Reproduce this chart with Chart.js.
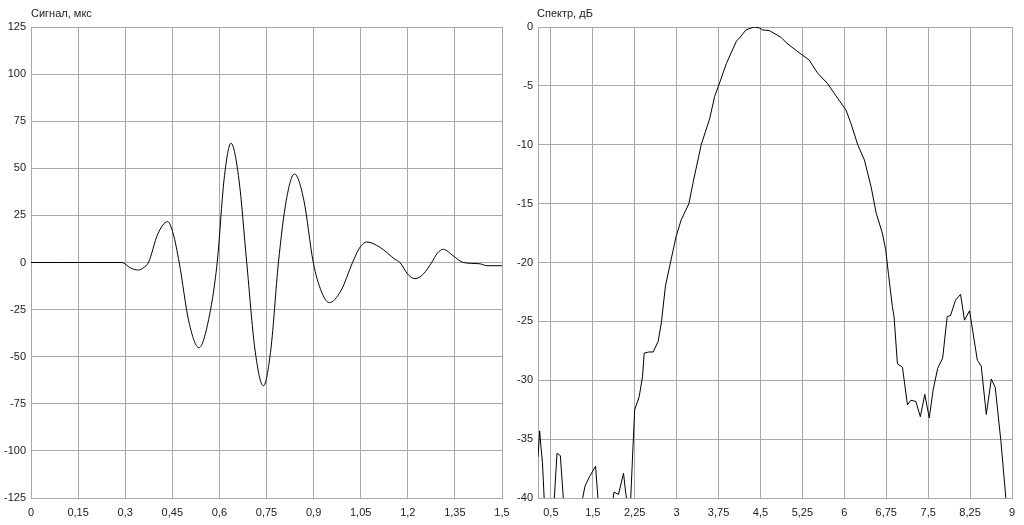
<!DOCTYPE html>
<html>
<head>
<meta charset="utf-8">
<script src="https://cdn.jsdelivr.net/npm/chart.js@4/dist/chart.umd.min.js"></script>
<style>
    body { margin: 0; background: #fff; width: 1024px; height: 525px; overflow: hidden; position: relative; }
    .box { position: absolute; top: 0; width: 512px; height: 525px; }
    .cap { position: absolute; top: 7px; font: 11px "Liberation Sans", Arial, sans-serif; color: #222; }
</style>
</head>
<body>
<div class="box" style="left:0"><canvas id="signal" width="512" height="525"></canvas></div>
<div class="box" style="left:512px"><canvas id="spectrum" width="512" height="525"></canvas></div>
<div class="cap" style="left:31px">Сигнал, мкс</div>
<div class="cap" style="left:537px">Спектр, дБ</div>
<script>
// signal, time axis
const sigT = [0, 0.1, 0.2, 0.29, 0.316, 0.342, 0.358, 0.374, 0.404, 0.435, 0.453, 0.472,
    0.503, 0.535, 0.564, 0.593, 0.615, 0.637, 0.662, 0.687, 0.713, 0.740, 0.764, 0.788,
    0.813, 0.839, 0.869, 0.899, 0.924, 0.950, 0.987, 1.024, 1.046, 1.069, 1.112, 1.159, 1.175,
    1.199, 1.223, 1.25, 1.276, 1.294, 1.313, 1.345, 1.377, 1.43, 1.452, 1.5];
const sigV = [0, 0, 0, 0, -2.8, -4, -2.8, 0, 15.2, 21.7, 15.2, 0,
    -31.6, -45.2, -31.6, 0, 44.3, 63.3, 44.3, 0, -45.9, -65.5, -45.9, 0,
    33, 47, 33, 0, -15, -21.3, -15, 0, 7.6, 10.9, 8, 1.7, 0,
    -6, -8.6, -6, 0, 4.9, 7, 3.5, 0, -0.7, -1.7, -1.7];
const sigXTicks = [0, 0.15, 0.3, 0.45, 0.6, 0.75, 0.9, 1.05, 1.2, 1.35, 1.5];
const sigXLabels = ['0', '0,15', '0,3', '0,45', '0,6', '0,75', '0,9', '1,05', '1,2', '1,35', '1,5'];
const sigYTicks = [125, 100, 75, 50, 25, 0, -25, -50, -75, -100, -125];

// spectrum, dB
const specF = [0.52, 0.55, 0.57, 0.6, 0.64, 0.8, 0.86, 0.92, 0.98, 1.3, 1.36, 1.44, 1.55, 1.6,
    1.85, 1.88, 1.96, 2.05, 2.09, 2.12, 2.17, 2.22, 2.25, 2.33, 2.39, 2.42, 2.5, 2.58, 2.67,
    2.73, 2.8, 2.89, 2.99, 3.08, 3.22, 3.29, 3.44, 3.59, 3.68, 3.75, 3.89, 4.07, 4.13, 4.24,
    4.38, 4.48, 4.54, 4.66, 4.87, 4.96, 5.14, 5.37, 5.52, 5.7, 5.88, 6.03, 6.12, 6.24, 6.36,
    6.48, 6.57, 6.68, 6.74, 6.79, 6.86, 6.89, 6.95, 7.04, 7.13, 7.19, 7.28, 7.36, 7.44, 7.52,
    7.59, 7.67, 7.76, 7.84, 7.9, 7.99, 8.08, 8.15, 8.24, 8.38, 8.45, 8.54, 8.63, 8.7, 8.8,
    8.89, 9];
const specDb = [-36.5, -34.3, -35.5, -37, -41, -41, -36.2, -36.4, -40.5, -40.5, -39, -38.2, -37.3, -40.5,
    -40.5, -39.5, -39.7, -37.9, -39.6, -40.5, -41, -35.6, -32.5, -31.4, -29.7, -27.7, -27.6, -27.6, -26.7,
    -25, -22, -20, -17.8, -16.4, -15, -13.3, -10, -7.8, -5.9, -5, -3.1, -1.2, -0.9, -0.25,
    0, -0.08, -0.25, -0.31, -0.88, -1.33, -2, -2.8, -3.9, -4.8, -6.05, -7.05, -8.2, -10, -11.3,
    -13.6, -15.8, -17.5, -18.9, -21, -23.75, -24.6, -28.6, -28.9, -32.1, -31.7, -31.8, -33.1, -31.2, -33.2,
    -30.8, -29, -28.1, -24.6, -24.5, -23.2, -22.7, -24.9, -24.1, -28.3, -28.8, -32.9, -29.9, -30.6, -35.1,
    -40, -44];
const specXTicks = [0.75, 1.5, 2.25, 3, 3.75, 4.5, 5.25, 6, 6.75, 7.5, 8.25, 9];
const specXLabels = ['0,5', '1,5', '2,25', '3', '3,75', '4,5', '5,25', '6', '6,75', '7,5', '8,25', '9'];
const specYTicks = [0, -5, -10, -15, -20, -25, -30, -35, -40];

const gridColor = '#a8a8a8';
const tickFont = { family: "'Liberation Sans', Arial, sans-serif", size: 11 };

function makeChart(id, xs, ys, o) {
    const points = xs.map((x, i) => ({ x: x, y: ys[i] }));
    return new Chart(document.getElementById(id), {
        type: 'line',
        data: {
            datasets: [{
                data: points,
                borderColor: '#000',
                borderWidth: 1,
                pointRadius: 0,
                tension: o.tension,
                cubicInterpolationMode: o.mode
            }]
        },
        options: {
            responsive: false,
            animation: false,
            events: [],
            layout: { padding: { top: 27, right: o.right, left: 0, bottom: 0 } },
            plugins: { legend: { display: false }, tooltip: { enabled: false } },
            scales: {
                x: {
                    type: 'linear',
                    min: o.xMin,
                    max: o.xMax,
                    afterBuildTicks: s => { s.ticks = o.xTicks.map(v => ({ value: v })); },
                    afterFit: s => { s.height = 27; s.paddingRight = 0; s.paddingLeft = 0; },
                    grid: { color: gridColor, drawTicks: false },
                    border: { color: gridColor },
                    ticks: {
                        color: '#222',
                        font: tickFont,
                        padding: 8,
                        maxRotation: 0,
                        autoSkip: false,
                        callback: v => {
                            const i = o.xTicks.findIndex(t => Math.abs(t - v) < 1e-6);
                            return i < 0 ? '' : o.xLabels[i];
                        }
                    }
                },
                y: {
                    min: o.yMin,
                    max: o.yMax,
                    afterBuildTicks: s => { s.ticks = o.yTicks.map(v => ({ value: v })); },
                    afterFit: s => { s.width = o.yWidth; },
                    grid: { color: gridColor, drawTicks: false },
                    border: { color: gridColor },
                    ticks: { color: '#222', font: tickFont, padding: 5, autoSkip: false }
                }
            }
        }
    });
}

makeChart('signal', sigT, sigV, {
    xMin: 0, xMax: 1.5, yMin: -125, yMax: 125,
    xTicks: sigXTicks, xLabels: sigXLabels, yTicks: sigYTicks,
    yWidth: 31, right: 10, tension: 0.4, mode: 'monotone'
});

makeChart('spectrum', specF, specDb, {
    xMin: 0.52, xMax: 9, yMin: -40, yMax: 0,
    xTicks: specXTicks, xLabels: specXLabels, yTicks: specYTicks,
    yWidth: 26, right: 12, tension: 0, mode: 'default'
});
</script>
</body>
</html>
